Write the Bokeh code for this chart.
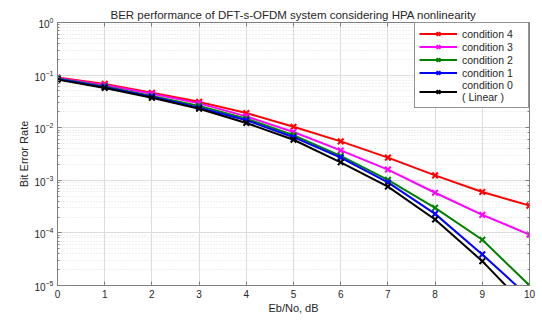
from bokeh.plotting import figure
from bokeh.models import LogAxis, LinearAxis, Legend, LegendItem, FixedTicker, Range1d
from bokeh.embed import file_html
from bokeh.resources import INLINE

ebno = [0, 1, 2, 3, 4, 5, 6, 7, 8, 9, 10]
cond4 = [0.090, 0.068, 0.046, 0.031, 0.019, 0.0104, 0.0055, 0.0027, 0.00124, 0.0006, 0.00033]
cond3 = [0.088, 0.065, 0.044, 0.029, 0.0164, 0.0083, 0.0037, 0.0016, 0.00058, 0.00022, 0.000093]
cond2 = [0.086, 0.061, 0.040, 0.026, 0.0148, 0.0072, 0.0029, 0.00102, 0.00030, 0.000074, 0.00001]
cond1 = [0.084, 0.059, 0.039, 0.024, 0.0139, 0.0066, 0.0027, 0.00091, 0.00023, 0.000039, 0.0000059]
cond0 = [0.082, 0.057, 0.037, 0.023, 0.0123, 0.0059, 0.0022, 0.00076, 0.00018, 0.000029, 0.0000034]

series = [
    ("condition 4", cond4, "#FF0000"),
    ("condition 3", cond3, "#FF00FF"),
    ("condition 2", cond2, "#008000"),
    ("condition 1", cond1, "#0000FF"),
    ("condition 0\n( Linear )", cond0, "#000000"),
]

FONT = "Liberation Sans"
TXT = "#262626"
AX = "#808080"

p = figure(width=535, height=316, y_axis_type="log",
           x_range=Range1d(0, 10), y_range=Range1d(1e-5, 1),
           output_backend="svg", toolbar_location=None,
           min_border_left=57, min_border_right=6, min_border_top=22, min_border_bottom=29)

p.title.text = "BER performance of DFT-s-OFDM system considering HPA nonlinearity"
p.title.align = "center"
p.title.text_font = FONT
p.title.text_font_size = "11.5px"
p.title.text_font_style = "normal"
p.title.text_color = TXT
p.title.standoff = 4

p.xaxis.ticker = FixedTicker(ticks=ebno)
p.xaxis.axis_label = "Eb/No, dB"
p.yaxis.axis_label = "Bit Error Rate"
for ax in [p.xaxis[0], p.yaxis[0]]:
    ax.axis_label_text_font = FONT
    ax.axis_label_text_font_size = "11px"
    ax.axis_label_text_font_style = "normal"
    ax.axis_label_text_color = TXT
    ax.major_label_text_font = FONT
    ax.major_label_text_font_size = "10px"
    ax.major_label_text_color = TXT
    ax.axis_line_color = AX
    ax.major_tick_line_color = AX
    ax.minor_tick_line_color = AX
    ax.major_tick_in = 4
    ax.major_tick_out = 0
    ax.minor_tick_in = 2
    ax.minor_tick_out = 0
    ax.major_label_standoff = 4
    ax.axis_label_standoff = 1

# box axes (ticks only)
top = LinearAxis(ticker=FixedTicker(ticks=ebno), major_label_text_font_size="1px",
                 major_label_text_alpha=0,
                 axis_line_color=AX, major_tick_line_color=AX, major_tick_in=4, major_tick_out=0,
                 minor_tick_line_color=None, major_label_standoff=0)
right = LogAxis(major_label_text_font_size="1px", major_label_text_alpha=0,
                axis_line_color=AX, major_tick_line_color=AX,
                minor_tick_line_color=AX, major_tick_in=4, major_tick_out=0,
                minor_tick_in=2, minor_tick_out=0, major_label_standoff=0)
p.add_layout(top, "above")
p.add_layout(right, "right")
p.xaxis[0].minor_tick_line_color = None

p.xgrid.grid_line_color = "#dcdcdc"
p.ygrid.grid_line_color = "#dcdcdc"
p.ygrid.minor_grid_line_color = "#e0e0e0"
p.ygrid.minor_grid_line_dash = "1 2"
p.outline_line_color = AX

items = []
for label, vals, color in series:
    r1 = p.line(ebno, vals, line_color=color, line_width=2)
    r2 = p.scatter(ebno, vals, marker="x", size=8, line_color=color, line_width=2)
    items.append(LegendItem(label=label, renderers=[r1, r2]))

legend = Legend(items=items, location=(357, 177))
legend.label_text_font = FONT
legend.label_text_font_size = "10.5px"
legend.label_text_color = TXT
legend.glyph_width = 38
legend.glyph_height = 13
legend.label_height = 13
legend.label_width = 62
legend.spacing = 0
legend.padding = 4
legend.margin = 0
legend.border_line_color = "#262626"
legend.background_fill_alpha = 1
p.add_layout(legend)

open("out.html", "w").write(file_html(p, INLINE))
